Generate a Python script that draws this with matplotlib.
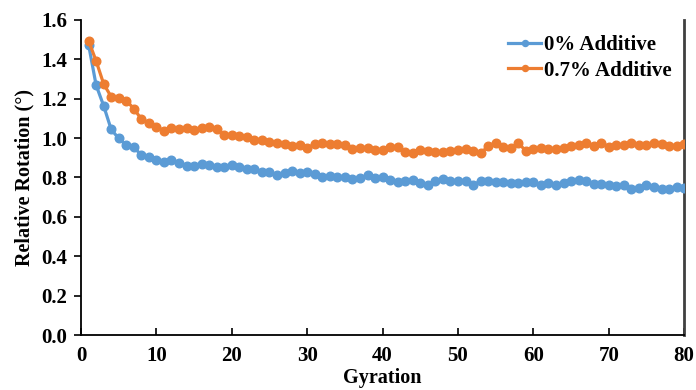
import matplotlib
matplotlib.use("Agg")
import matplotlib.pyplot as plt

gyration = list(range(1, 81))
additive_0 = [1.475, 1.269, 1.164, 1.044, 0.998, 0.964, 0.953, 0.914, 0.902, 0.888,
              0.880, 0.888, 0.875, 0.858, 0.859, 0.868, 0.863, 0.854, 0.851, 0.862,
              0.854, 0.841, 0.841, 0.829, 0.829, 0.812, 0.824, 0.834, 0.821, 0.829,
              0.816, 0.800, 0.807, 0.804, 0.800, 0.792, 0.795, 0.810, 0.795, 0.800,
              0.787, 0.778, 0.782, 0.787, 0.770, 0.761, 0.782, 0.790, 0.782, 0.782,
              0.782, 0.761, 0.782, 0.782, 0.778, 0.778, 0.774, 0.770, 0.775, 0.778,
              0.761, 0.773, 0.761, 0.770, 0.783, 0.787, 0.782, 0.766, 0.766, 0.761,
              0.758, 0.761, 0.741, 0.744, 0.761, 0.753, 0.739, 0.739, 0.753, 0.748]
additive_07 = [1.494, 1.392, 1.275, 1.210, 1.205, 1.190, 1.150, 1.096, 1.078, 1.057,
               1.037, 1.049, 1.046, 1.052, 1.040, 1.052, 1.054, 1.044, 1.015, 1.015,
               1.010, 1.003, 0.990, 0.990, 0.981, 0.976, 0.970, 0.959, 0.964, 0.948,
               0.970, 0.973, 0.970, 0.968, 0.964, 0.943, 0.948, 0.948, 0.939, 0.939,
               0.956, 0.956, 0.927, 0.922, 0.939, 0.936, 0.927, 0.927, 0.934, 0.939,
               0.943, 0.934, 0.922, 0.959, 0.976, 0.953, 0.948, 0.973, 0.936, 0.943,
               0.948, 0.943, 0.943, 0.948, 0.959, 0.964, 0.973, 0.959, 0.976, 0.956,
               0.964, 0.964, 0.973, 0.964, 0.964, 0.973, 0.970, 0.962, 0.962, 0.970]
x_ticks = [0, 10, 20, 30, 40, 50, 60, 70, 80]
y_ticks = [0.0, 0.2, 0.4, 0.6, 0.8, 1.0, 1.2, 1.4, 1.6]

plt.rcParams['font.family'] = ['Liberation Serif', 'DejaVu Serif']
plt.rcParams['font.weight'] = 'bold'

fig = plt.figure(figsize=(6.96, 3.90), dpi=100)
ax = fig.add_axes([0.1164, 0.141, 0.8666, 0.808])

ax.plot(gyration, additive_0, color='#5B9BD5', lw=2.3, marker='o', ms=6.2,
        label='0% Additive', zorder=3)
ax.plot(gyration, additive_07, color='#ED7D31', lw=2.3, marker='o', ms=6.2,
        label='0.7% Additive', zorder=3)

ax.set_xlim(0, 80)
ax.set_ylim(0, 1.6)
ax.set_xticks(x_ticks)
ax.set_yticks(y_ticks)
ax.set_xticklabels([str(t) for t in x_ticks])
ax.set_yticklabels([f"{t:.1f}" for t in y_ticks])
ax.tick_params(axis='x', direction='in', length=5, width=1.2, labelsize=15, pad=8)
ax.tick_params(axis='y', direction='out', length=5, width=1.2, labelsize=15, pad=5)
for lab in ax.get_xticklabels() + ax.get_yticklabels():
    lab.set_fontweight('bold')

ax.set_xlabel('Gyration', fontsize=14.5, fontweight='bold', labelpad=1)
ax.set_ylabel('Relative Rotation (°)', fontsize=14.5, fontweight='bold', labelpad=5)

ax.spines['top'].set_visible(False)
ax.spines['left'].set_linewidth(1.3)
ax.spines['bottom'].set_linewidth(1.3)
ax.spines['right'].set_linewidth(2.0)
ax.spines['right'].set_color('#404040')

leg = ax.legend(loc='upper right', bbox_to_anchor=(1.01, 1.01), frameon=False,
                fontsize=15, handlelength=1.55, handletextpad=0.15, labelspacing=0.25,
                markerscale=0.7)
for t in leg.get_texts():
    t.set_fontweight('bold')

fig.savefig('out.png', dpi=100)
